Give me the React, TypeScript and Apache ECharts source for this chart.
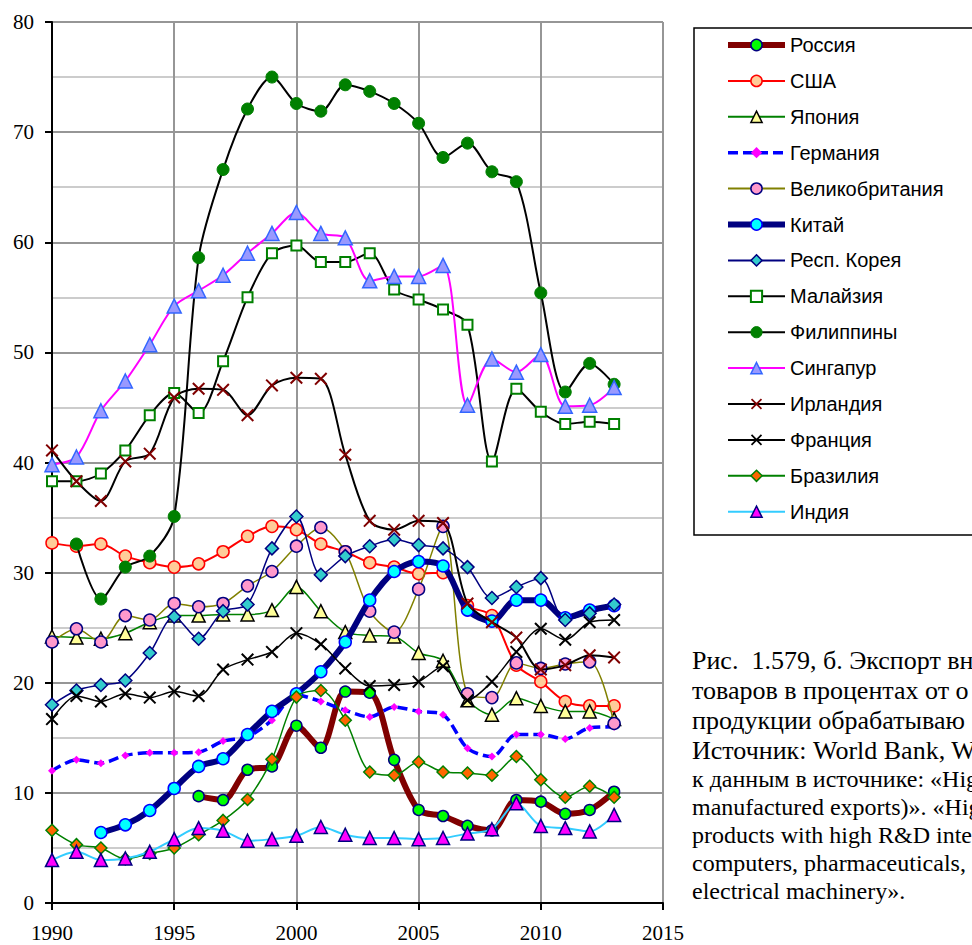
import React, { useEffect, useRef } from "react";
import * as echarts from "echarts";

const years = [1990,1991,1992,1993,1994,1995,1996,1997,1998,1999,2000,2001,2002,2003,2004,2005,2006,2007,2008,2009,2010,2011,2012,2013];

const russia = [null,null,null,null,null,null,9.7,9.35,12.1,12.4,16.1,14.1,19.2,19.1,13.0,8.45,7.9,7.0,6.6,9.35,9.2,8.1,8.45,10.1];
const usa = [32.7,32.4,32.6,31.5,30.9,30.5,30.8,31.9,33.3,34.2,33.9,32.6,31.9,30.9,30.5,29.9,30.0,27.0,26.1,21.6,20.1,18.3,17.9,17.9];
const japan = [24.2,24.1,24.0,24.5,25.5,26.1,26.1,26.2,26.2,26.6,28.7,26.5,24.6,24.3,24.2,22.7,22.0,18.4,17.1,18.6,17.9,17.4,17.4,16.7];
const germany = [12.0,13.0,12.7,13.4,13.65,13.65,13.7,14.7,15.1,16.6,18.9,18.3,17.5,16.9,17.8,17.4,17.1,14.05,13.3,15.3,15.3,14.9,15.9,16.0];
const uk = [23.7,24.9,23.7,26.1,25.7,27.2,26.9,27.2,28.8,30.1,32.4,34.1,31.9,26.5,24.6,28.5,34.2,19.0,18.65,21.8,21.3,21.7,21.9,16.3];
const china = [null,null,6.4,7.1,8.4,10.4,12.4,13.1,15.3,17.4,19.0,21.0,23.7,27.5,30.1,31.0,30.6,26.6,25.6,27.5,27.5,25.9,26.6,27.0];
const korea = [18.0,19.3,19.8,20.2,22.7,26.0,24.0,26.5,27.1,32.2,35.1,29.8,31.5,32.4,33.0,32.5,32.2,30.5,27.7,28.7,29.5,25.7,26.3,27.1];
const malaysia = [38.3,38.3,39.0,41.1,44.3,46.3,44.5,49.2,55.0,59.0,59.7,58.2,58.2,59.0,55.7,54.8,53.9,52.5,40.1,46.7,44.6,43.5,43.7,43.5];
const philippines = [null,32.6,27.6,30.5,31.5,35.1,58.6,66.6,72.1,75.0,72.6,71.9,74.3,73.7,72.6,70.8,67.7,69.0,66.4,65.5,55.4,46.4,49.0,47.1];
const singapore = [39.8,40.5,44.7,47.4,50.7,54.2,55.6,57.0,59.0,60.8,62.7,60.8,60.4,56.5,56.9,56.9,57.9,45.2,49.4,48.2,49.8,45.1,45.2,46.8];
const ireland = [41.1,38.3,36.5,40.1,40.8,45.9,46.7,46.6,44.3,47.0,47.7,47.6,40.7,34.7,33.9,34.7,34.5,27.2,25.5,24.1,21.2,21.6,22.5,22.3];
const france = [16.7,18.8,18.3,19.0,18.65,19.2,18.8,21.2,22.1,22.8,24.5,23.5,21.3,19.7,19.8,20.1,21.5,18.4,20.1,22.8,24.9,23.9,25.5,25.7];
const brazil = [6.6,5.3,5.0,4.0,4.5,5.0,6.2,7.5,9.4,13.05,18.7,19.3,16.6,11.9,11.6,12.8,11.9,11.8,11.6,13.3,11.2,9.6,10.6,9.6];
const india = [3.9,4.65,3.9,4.05,4.65,5.8,6.8,6.55,5.65,5.8,6.1,6.9,6.2,5.9,5.9,5.8,5.9,6.3,6.7,9.05,7.0,6.8,6.5,8.0];

const yTicks = [0, 10, 20, 30, 40, 50, 60, 70, 80];
const xTicks = [1990, 1995, 2000, 2005, 2010, 2015];

// caption as visible in the (cropped) reference
const captionLines = [
  "Рис.  1.579, б. Экспорт вн",
  "товаров в процентах от о",
  "продукции обрабатываю",
  "Источник: World Bank, W",
  "к данным в источнике: «Hig",
  "manufactured exports)». «Hig",
  "products with high R&D inte",
  "computers, pharmaceuticals,",
  "electrical machinery».",
];

const X_PATH = "path://M0,1.1L1.1,0L10,8.9L8.9,10Z M8.9,0L10,1.1L1.1,10L0,8.9Z";

type Spec = {
  name: string;
  values: (number | null)[];
  lineColor: string;
  lineWidth: number;
  lineType?: any;
  symbol: string;
  size: number;
  fill: string;
  border: string;
  borderWidth: number;
};

const specs: Spec[] = [
  { name: "Россия", values: russia, lineColor: "#800000", lineWidth: 6, symbol: "circle", size: 11, fill: "#00ff00", border: "#000080", borderWidth: 1.5 },
  { name: "США", values: usa, lineColor: "#ff0000", lineWidth: 2, symbol: "circle", size: 12, fill: "#ffcc99", border: "#ff0000", borderWidth: 1.5 },
  { name: "Япония", values: japan, lineColor: "#008000", lineWidth: 1.5, symbol: "triangle", size: 13, fill: "#ffff99", border: "#000000", borderWidth: 1.5 },
  { name: "Германия", values: germany, lineColor: "#0000ff", lineWidth: 3.5, lineType: [10, 5], symbol: "diamond", size: 8, fill: "#ff00ff", border: "#ff00ff", borderWidth: 0 },
  { name: "Великобритания", values: uk, lineColor: "#808000", lineWidth: 1.5, symbol: "circle", size: 12, fill: "#ff99cc", border: "#000080", borderWidth: 1.5 },
  { name: "Китай", values: china, lineColor: "#000080", lineWidth: 6, symbol: "circle", size: 12, fill: "#00ffff", border: "#0000ff", borderWidth: 1.5 },
  { name: "Респ. Корея", values: korea, lineColor: "#000080", lineWidth: 1.5, symbol: "diamond", size: 13, fill: "#33cccc", border: "#000080", borderWidth: 1.5 },
  { name: "Малайзия", values: malaysia, lineColor: "#000000", lineWidth: 2, symbol: "rect", size: 10, fill: "#ffffff", border: "#008000", borderWidth: 2 },
  { name: "Филиппины", values: philippines, lineColor: "#000000", lineWidth: 2, symbol: "circle", size: 12, fill: "#008000", border: "#008000", borderWidth: 1 },
  { name: "Сингапур", values: singapore, lineColor: "#ff00ff", lineWidth: 2, symbol: "triangle", size: 14, fill: "#9999ff", border: "#3366ff", borderWidth: 1.5 },
  { name: "Ирландия", values: ireland, lineColor: "#000000", lineWidth: 2, symbol: X_PATH, size: 13, fill: "#800000", border: "#800000", borderWidth: 0 },
  { name: "Франция", values: france, lineColor: "#000000", lineWidth: 1.5, symbol: X_PATH, size: 13, fill: "#000000", border: "#000000", borderWidth: 0 },
  { name: "Бразилия", values: brazil, lineColor: "#008000", lineWidth: 1.5, symbol: "diamond", size: 12, fill: "#ff6600", border: "#008000", borderWidth: 1.5 },
  { name: "Индия", values: india, lineColor: "#33ccff", lineWidth: 2, symbol: "triangle", size: 13, fill: "#ff00ff", border: "#000080", borderWidth: 1.5 },
];

const serif = '"Liberation Serif", "Times New Roman", serif';
const sans = '"Liberation Sans", Arial, sans-serif';

export default function App() {
  const ref = useRef<HTMLDivElement>(null);

  useEffect(() => {
    if (!ref.current) return;
    const chart = echarts.init(ref.current, null, { renderer: "svg" });

    const series = specs.map((s, i) => ({
      name: s.name,
      type: "line",
      data: years.map((y, k) => [y, s.values[k]]),
      smooth: 0.3,
      connectNulls: false,
      symbol: s.symbol,
      symbolSize: s.size,
      showSymbol: true,
      z: 2 + i * 0.01,
      lineStyle: { color: s.lineColor, width: s.lineWidth, type: s.lineType || "solid" },
      itemStyle: { color: s.fill, borderColor: s.border, borderWidth: s.borderWidth },
      emphasis: { disabled: true },
    }));

    const legendData = specs.map((s) => ({
      name: s.name,
      lineStyle: { color: s.lineColor, width: s.lineWidth >= 3 ? s.lineWidth : 2, type: s.lineType || "solid" },
      itemStyle: { color: s.fill, borderColor: s.border, borderWidth: s.borderWidth },
    }));

    const graphic: any[] = [
      {
        type: "rect",
        silent: true,
        shape: { x: 694, y: 28, width: 320, height: 507 },
        style: { fill: "none", stroke: "#000", lineWidth: 1.5 },
        z: 0,
      },
    ];
    const captionY = [660, 690, 720, 750, 779, 807, 835, 863, 891];
    captionLines.forEach((t, i) => {
      graphic.push({
        type: "text",
        silent: true,
        x: 692,
        y: captionY[i],
        style: {
          text: t,
          fontSize: i < 4 ? 26 : 24,
          fontFamily: serif,
          fill: "#000",
          verticalAlign: "middle",
        },
      });
    });

    chart.setOption({
      animation: false,
      backgroundColor: "#ffffff",
      grid: { left: 52, top: 22, right: 309, bottom: 42, containLabel: false },
      xAxis: {
        type: "value",
        min: xTicks[0],
        max: xTicks[xTicks.length - 1],
        interval: 5,
        axisLine: { show: true, onZero: false, lineStyle: { color: "#000", width: 2 } },
        axisTick: { show: true, length: 7, lineStyle: { color: "#000", width: 2 } },
        axisLabel: { margin: 19, fontFamily: serif, fontSize: 21, color: "#000", formatter: (v: number) => String(v) },
        splitLine: { show: true, lineStyle: { color: "#969696", width: 2 } },
      },
      yAxis: {
        type: "value",
        min: yTicks[0],
        max: yTicks[yTicks.length - 1],
        interval: 10,
        axisLine: { show: true, onZero: false, lineStyle: { color: "#000", width: 2 } },
        axisTick: { show: true, length: 7, lineStyle: { color: "#000", width: 2 } },
        axisLabel: { margin: 18, fontFamily: serif, fontSize: 21, color: "#000", formatter: (v: number) => String(v) },
        splitLine: { show: true, lineStyle: { color: "#969696", width: 2 } },
        minorTick: { show: false, splitNumber: 2 },
        minorSplitLine: { show: true, lineStyle: { color: "#cccccc", width: 2 } },
      },
      legend: {
        orient: "vertical",
        left: 725,
        top: 35,
        padding: 0,
        itemWidth: 57,
        itemHeight: 14,
        itemGap: 15.9,
        selectedMode: false,
        textStyle: { fontFamily: sans, fontSize: 20, color: "#000", lineHeight: 20 },
        data: legendData,
      },
      series,
      graphic,
    });

    return () => chart.dispose();
  }, []);

  return (
    <div
      ref={ref}
      style={{ position: "fixed", left: 0, top: 0, width: 972, height: 945, background: "#fff" }}
    />
  );
}
